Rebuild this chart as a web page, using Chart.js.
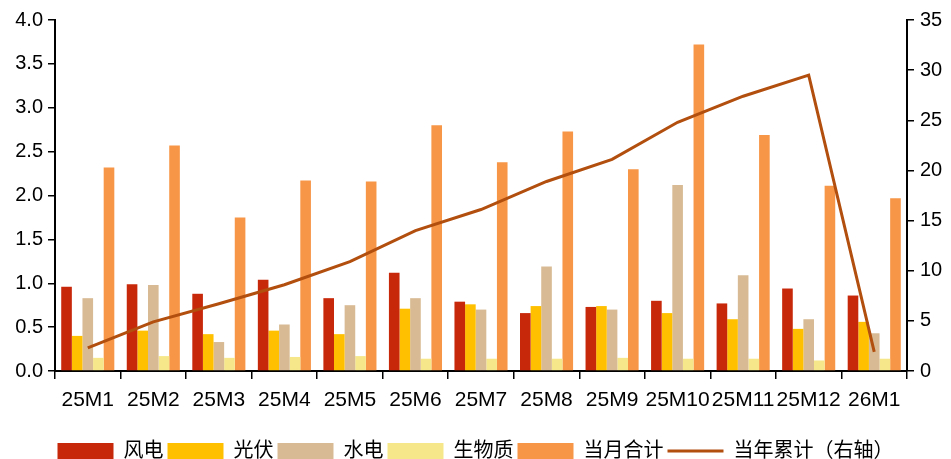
<!DOCTYPE html>
<html>
<head>
<meta charset="utf-8">
<script src="https://cdn.jsdelivr.net/npm/chart.js@4"></script>
<style>
  html, body { margin: 0; padding: 0; background: #fff; }
  #wrap { width: 951px; height: 459px; }
</style>
</head>
<body>
<div id="wrap"><canvas id="chart"></canvas></div>
<script>
let months = ["25M1", "25M2", "25M3", "25M4", "25M5", "25M6", "25M7", "25M8", "25M9", "25M10", "25M11", "25M12", "26M1"];

let wind = [0.96, 0.99, 0.88, 1.04, 0.83, 1.12, 0.79, 0.66, 0.73, 0.80, 0.77, 0.94, 0.86];
let solar = [0.40, 0.46, 0.42, 0.46, 0.42, 0.71, 0.76, 0.74, 0.74, 0.66, 0.59, 0.48, 0.56];
let hydro = [0.83, 0.98, 0.33, 0.53, 0.75, 0.83, 0.70, 1.19, 0.70, 2.12, 1.09, 0.59, 0.43];
let biomass = [0.15, 0.17, 0.15, 0.16, 0.17, 0.14, 0.14, 0.14, 0.15, 0.14, 0.14, 0.12, 0.14];
let monthTotal = [2.32, 2.57, 1.75, 2.17, 2.16, 2.80, 2.38, 2.73, 2.30, 3.72, 2.69, 2.11, 1.97];
let yearTotal = [2.3, 4.9, 6.7, 8.6, 10.9, 14.0, 16.1, 18.9, 21.1, 24.8, 27.4, 29.5, 1.9];

let leftTicks = [0, 0.5, 1.0, 1.5, 2.0, 2.5, 3.0, 3.5, 4.0];
let rightTicks = [0, 5, 10, 15, 20, 25, 30, 35];

const FONT = "'Liberation Sans', Arial, 'Noto Sans CJK SC', sans-serif";

function barSet(label, data, color) {
  return {
    type: "bar",
    label: label,
    data: data,
    backgroundColor: color,
    borderWidth: 0,
    yAxisID: "y",
    order: 1,
    categoryPercentage: 0.81,
    barPercentage: 1.0,
  };
}

let ctx = document.getElementById("chart").getContext("2d");
let chart = new Chart(ctx, {
  type: "bar",
  data: {
    labels: months,
    datasets: [
      barSet("风电", wind, "#C8280A"),
      barSet("光伏", solar, "#FFC000"),
      barSet("水电", hydro, "#D8BB94"),
      barSet("生物质", biomass, "#F6E88A"),
      barSet("当月合计", monthTotal, "#F79646"),
      {
        type: "line",
        label: "当年累计（右轴）",
        data: yearTotal,
        borderColor: "#B24E0E",
        backgroundColor: "#B24E0E",
        borderWidth: 3,
        pointRadius: 0,
        tension: 0,
        yAxisID: "y1",
        order: 0,
      },
    ],
  },
  options: {
    responsive: true,
    maintainAspectRatio: false,
    animation: false,
    layout: { padding: { top: 20, left: 0, right: 0, bottom: -12 } },
    plugins: {
      tooltip: { enabled: false },
      legend: {
        position: "bottom",
        labels: {
          font: { family: FONT, size: 20 },
          color: "#000",
          usePointStyle: true,
          pointStyleWidth: 56,
          boxHeight: 16,
          padding: 4,
          sort: (a, b) => a.datasetIndex - b.datasetIndex,
          generateLabels: (c) => {
            let items = Chart.defaults.plugins.legend.labels.generateLabels(c);
            items.forEach((it) => {
              if (it.datasetIndex === 5) {
                it.pointStyle = "line";
                it.lineWidth = 3;
                it.strokeStyle = "#B24E0E";
              } else {
                it.pointStyle = "rect";
                it.lineWidth = 0;
              }
            });
            return items;
          },
        },
      },
    },
    scales: {
      x: {
        offset: true,
        afterFit: (s) => { s.height = 66; },
        grid: {
          offset: true,
          drawOnChartArea: false,
          drawTicks: true,
          tickLength: 8,
          color: "#000",
          lineWidth: 1.5,
        },
        border: { color: "#000", width: 2 },
        ticks: {
          color: "#000",
          font: { family: FONT, size: 21 },
          padding: 9,
          maxRotation: 0,
          autoSkip: false,
        },
      },
      y: {
        position: "left",
        min: 0,
        max: 4,
        afterFit: (s) => { s.width = 55; },
        afterBuildTicks: (s) => { s.ticks = leftTicks.map((v) => ({ value: v })); },
        grid: { drawOnChartArea: false, tickLength: 7, color: "#000", lineWidth: 1.5 },
        border: { color: "#000", width: 2 },
        ticks: {
          color: "#000",
          font: { family: FONT, size: 20 },
          padding: 5,
          callback: (v) => v.toFixed(1),
        },
      },
      y1: {
        position: "right",
        min: 0,
        max: 35,
        afterFit: (s) => { s.width = 44; },
        afterBuildTicks: (s) => { s.ticks = rightTicks.map((v) => ({ value: v })); },
        grid: { drawOnChartArea: false, tickLength: 7, color: "#000", lineWidth: 1.5 },
        border: { color: "#000", width: 2 },
        ticks: {
          color: "#000",
          font: { family: FONT, size: 20 },
          padding: 6,
        },
      },
    },
  },
});
</script>
</body>
</html>
